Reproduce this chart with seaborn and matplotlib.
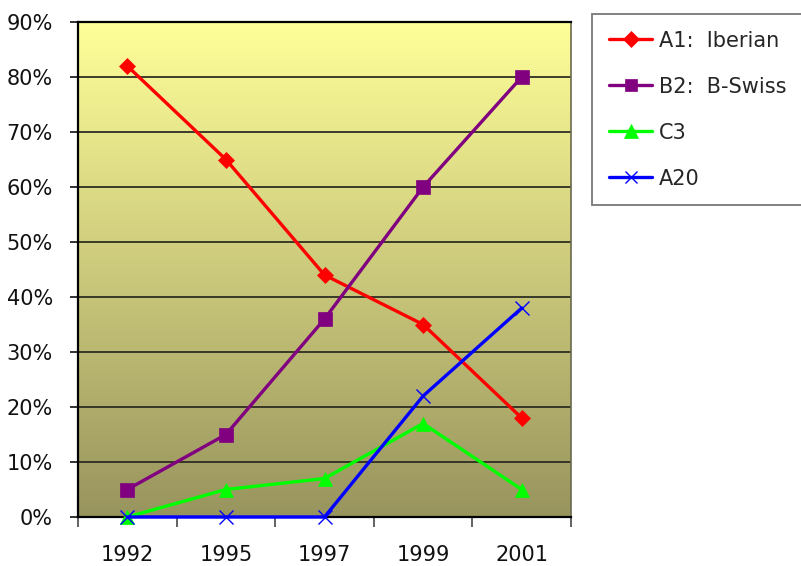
import numpy as np
import pandas as pd
import matplotlib
matplotlib.use("Agg")
import matplotlib.pyplot as plt
import seaborn as sns
from matplotlib.colors import LinearSegmentedColormap
from matplotlib.lines import Line2D

years = ["1992", "1995", "1997", "1999", "2001"]
a1_iberian = [0.82, 0.65, 0.44, 0.35, 0.18]
b2_bswiss = [0.05, 0.15, 0.36, 0.60, 0.80]
c3 = [0.00, 0.05, 0.07, 0.17, 0.05]
a20 = [0.00, 0.00, 0.00, 0.22, 0.38]

series_names = ["A1:  Iberian", "B2:  B-Swiss", "C3", "A20"]
series_values = [a1_iberian, b2_bswiss, c3, a20]
colors = ["#FF0000", "#800080", "#00FF00", "#0000FF"]
markers = ["D", "s", "^", "x"]
marker_sizes = [8.5, 9.5, 10.5, 10]

rows = []
for name, vals in zip(series_names, series_values):
    for i, v in enumerate(vals):
        rows.append({"pos": i, "year": years[i], "series": name, "share": v})
df = pd.DataFrame(rows)

sns.set_theme(style="white")
plt.rcParams["font.family"] = ["DejaVu Sans"]

fig = plt.figure(figsize=(8.01, 5.66), dpi=100)
ax = fig.add_axes([78 / 801, 1 - 517 / 566, (571 - 78) / 801, (517 - 22) / 566])

# vertical gradient backdrop: pale yellow at top to olive at bottom
cmap = LinearSegmentedColormap.from_list("bg", ["#98945E", "#FFFF99"])
grad = np.linspace(0, 1, 256).reshape(-1, 1)
ax.imshow(grad, cmap=cmap, aspect="auto", origin="lower",
          extent=[0, 1, 0, 1], transform=ax.transAxes, zorder=0)

for name, col, mk, ms in zip(series_names, colors, markers, marker_sizes):
    sub = df[df["series"] == name]
    sns.lineplot(data=sub, x="pos", y="share", ax=ax, color=col, linewidth=2.4,
                 marker=mk, markersize=ms, markeredgecolor=col,
                 markeredgewidth=1.0 if mk == "x" else 0.5,
                 label=name, legend=False, zorder=5, clip_on=False)

ax.set_xlim(-0.5, 4.5)
ax.set_ylim(0, 0.9)
ax.set_xlabel("")
ax.set_ylabel("")

yt = np.arange(0, 0.91, 0.1)
ax.set_yticks(yt)
ax.set_yticklabels([f"{int(round(v * 100))}%" for v in yt])
ax.yaxis.grid(True, color="#2e2e22", linewidth=1.3)
ax.set_axisbelow(True)
for gl in ax.get_ygridlines():
    gl.set_zorder(1)

ax.set_xticks(range(len(years)))
ax.set_xticklabels(years)
ax.set_xticks(np.arange(-0.5, 4.6, 1), minor=True)
ax.tick_params(axis="x", which="major", length=0, pad=20, labelsize=15, colors="#111111")
ax.tick_params(axis="x", which="minor", length=7, width=1.3, color="#555555", bottom=True)
ax.tick_params(axis="y", length=6, width=1.3, pad=12, labelsize=15, colors="#111111",
               color="#222222", left=True)

for side in ["left", "bottom", "top"]:
    ax.spines[side].set_visible(True)
    ax.spines[side].set_color("black")
    ax.spines[side].set_linewidth(1.6)
ax.spines["right"].set_visible(True)
ax.spines["right"].set_color("#6a6a50")
ax.spines["right"].set_linewidth(1.2)

handles = [Line2D([0], [0], color=c, linewidth=2.4, marker=m, markersize=s * 0.9,
                  markeredgecolor=c, markeredgewidth=1.0 if m == "x" else 0.5)
           for c, m, s in zip(colors, markers, marker_sizes)]
leg = fig.legend(handles, series_names, loc="upper left",
                 bbox_to_anchor=(592 / 801, 1 - 14 / 566),
                 frameon=True, fancybox=False, fontsize=15,
                 handlelength=2.1, handletextpad=0.3, labelspacing=1.25,
                 borderpad=0.8, borderaxespad=0)
leg.get_frame().set_edgecolor("#555555")
leg.get_frame().set_linewidth(1.3)

fig.savefig("out.png", dpi=100)
